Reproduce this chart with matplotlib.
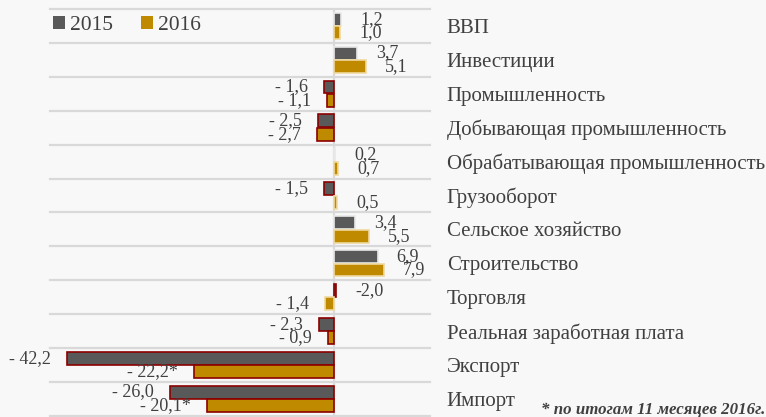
import numpy as np
import matplotlib
matplotlib.use('Agg')
import matplotlib.pyplot as plt
from matplotlib.patches import Patch

plt.rcParams['font.family'] = ['Liberation Serif', 'DejaVu Serif']

# data (growth, %)
categories = ['ВВП', 'Инвестиции', 'Промышленность', 'Добывающая промышленность',
              'Обрабатывающая промышленность', 'Грузооборот', 'Сельское хозяйство',
              'Строительство', 'Торговля', 'Реальная заработная плата', 'Экспорт', 'Импорт']
values_2015 = [1.2, 3.7, -1.6, -2.5, 0.2, -1.5, 3.4, 6.9, 0.4, -2.3, -42.2, -26.0]
values_2016 = [1.0, 5.1, -1.1, -2.7, 0.7, 0.5, 5.5, 7.9, -1.4, -0.9, -22.2, -20.1]
labels_2015 = ['1,2', '3,7', '- 1,6', '- 2,5', '0,2', '- 1,5', '3,4', '6,9', '-2,0',
               '- 2,3', '- 42,2', '- 26,0']
labels_2016 = ['1,0', '5,1', '- 1,1', '- 2,7', '0,7', '0,5', '5,5', '7,9', '- 1,4',
               '- 0,9', '- 22,2*', '- 20,1*']
red_edge_2015 = [False, False, True, True, False, True, False, False, True, True, True, True]
red_edge_2016 = [False, False, True, True, False, False, False, False, False, True, True, True]

bg = '#f8f8f8'
c2015 = '#595959'
c2016 = '#bf8900'
txt = '#404040'

fig = plt.figure(figsize=(7.66, 4.17), dpi=100, facecolor=bg)
ax = fig.add_axes([50 / 766, 1 - 415.8 / 417, 380 / 766, 406.8 / 417], facecolor=bg)

y = np.arange(len(categories))
h = 0.38
off = 0.2

ec15 = ['#8b0000' if r else '#e8e8e8' for r in red_edge_2015]
ec16 = ['#8b0000' if r else '#f0d9a0' for r in red_edge_2016]
ax.barh(y - off, values_2015, height=h, color=c2015, edgecolor=ec15, linewidth=1.2, zorder=3)
ax.barh(y + off, values_2016, height=h, color=c2016, edgecolor=ec16, linewidth=1.2, zorder=3)

ax.set_xlim(-44.9, 15.2)
ax.set_ylim(len(categories) - 0.5, -0.5)

# row separators and zero line
for b in np.arange(-0.5, len(categories), 1.0):
    ax.axhline(b, color='#d9d9d9', lw=1.6, zorder=1, clip_on=False)
ax.axvline(0, color='#d9d9d9', lw=1.6, zorder=2)

# value labels
px = 380 / (15.2 + 44.9)  # pixels per unit
for vals, labs, dy in [(values_2015, labels_2015, -off), (values_2016, labels_2016, off)]:
    for i, (v, s) in enumerate(zip(vals, labs)):
        if v >= 0:
            ax.text(v + 19 / px, i + dy, s, ha='left', va='center', fontsize=13, color=txt)
        else:
            ax.text(v - 16 / px, i + dy, s, ha='right', va='center', fontsize=13, color=txt)

ax.set_yticks(y)
ax.set_yticklabels(categories, fontsize=15, color=txt)
ax.yaxis.tick_right()
ax.tick_params(axis='y', length=0, pad=12)
ax.set_xticks([])
for sp in ax.spines.values():
    sp.set_visible(False)

handles = [Patch(facecolor=c2015, label='2015'), Patch(facecolor=c2016, label='2016')]
ax.legend(handles=handles, loc='center left', bbox_to_anchor=(3 / 380, 0.96), ncol=2,
          frameon=False, fontsize=15.5, handlelength=0.55, handleheight=0.55,
          handletextpad=0.25, columnspacing=1.3, labelcolor=txt, borderaxespad=0,
          borderpad=0)

fig.text(541 / 766, 1 - 410 / 417, '* по итогам 11 месяцев 2016г.', fontsize=12.2,
         fontweight='bold', fontstyle='italic', color=txt, ha='left', va='center')

fig.savefig('out.png', dpi=100, facecolor=bg)
